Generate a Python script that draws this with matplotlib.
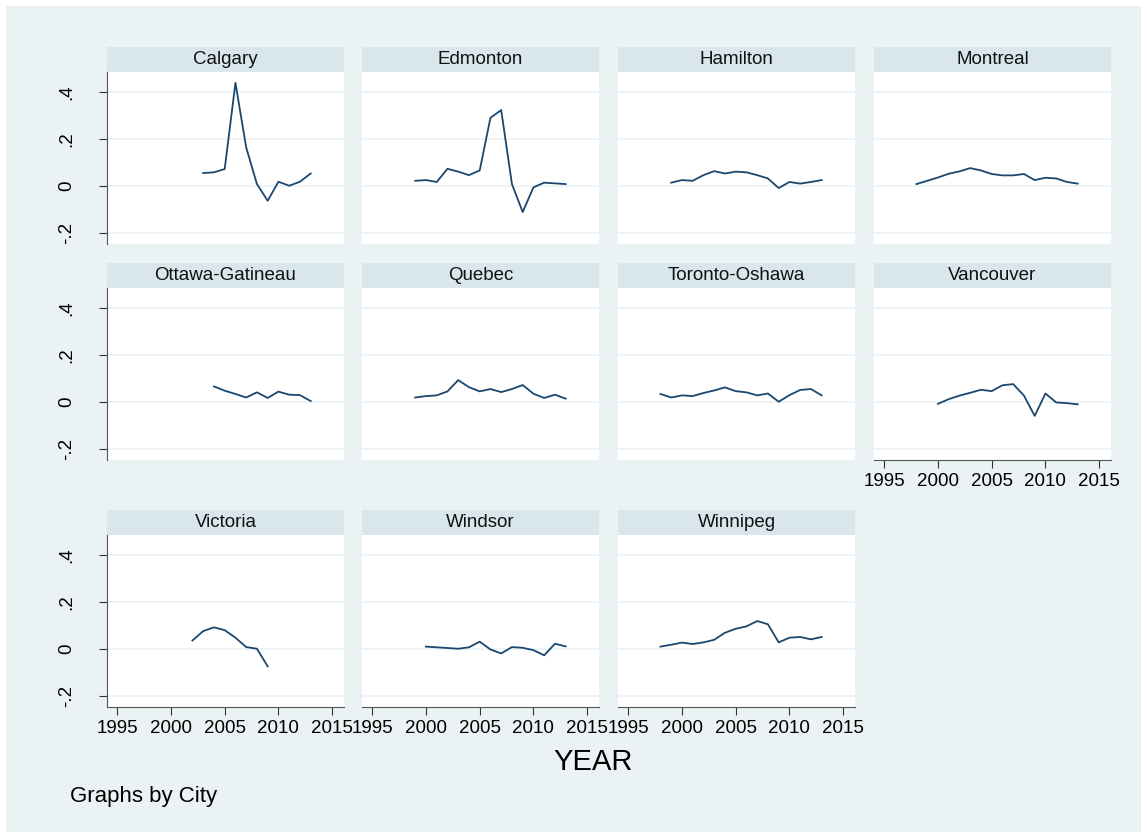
import matplotlib
matplotlib.use("Agg")
import matplotlib.pyplot as plt
from matplotlib.patches import Rectangle

plt.rcParams["font.family"] = ["Liberation Sans", "DejaVu Sans"]

# yearly series per city (first year, values)
calgary_start = 2003
calgary = [0.054, 0.057, 0.071, 0.438, 0.163, 0.007, -0.064, 0.017, 0.0, 0.017, 0.052]
edmonton_start = 1999
edmonton = [0.021, 0.024, 0.016, 0.072, 0.060, 0.045, 0.065, 0.289, 0.322, 0.007,
            -0.112, -0.007, 0.013, 0.010, 0.007]
hamilton_start = 1999
hamilton = [0.013, 0.024, 0.021, 0.045, 0.062, 0.052, 0.060, 0.057, 0.045, 0.031,
            -0.010, 0.016, 0.009, 0.016, 0.024]
montreal_start = 1998
montreal = [0.007, 0.021, 0.035, 0.051, 0.061, 0.075, 0.065, 0.050, 0.044, 0.044,
            0.050, 0.024, 0.034, 0.031, 0.016, 0.009]
ottawa_start = 2004
ottawa = [0.065, 0.047, 0.033, 0.018, 0.040, 0.016, 0.043, 0.030, 0.028, 0.003]
quebec_start = 1999
quebec = [0.018, 0.024, 0.027, 0.044, 0.092, 0.062, 0.044, 0.054, 0.041, 0.054,
          0.071, 0.034, 0.016, 0.030, 0.013]
toronto_start = 1998
toronto = [0.033, 0.018, 0.027, 0.024, 0.037, 0.048, 0.061, 0.045, 0.040, 0.027,
           0.035, 0.0, 0.028, 0.050, 0.054, 0.027]
vancouver_start = 2000
vancouver = [-0.009, 0.011, 0.026, 0.038, 0.051, 0.045, 0.070, 0.075, 0.026, -0.060,
             0.035, -0.003, -0.006, -0.011]
victoria_start = 2002
victoria = [0.035, 0.075, 0.091, 0.079, 0.047, 0.007, 0.0, -0.075]
windsor_start = 2000
windsor = [0.009, 0.006, 0.003, 0.0, 0.006, 0.030, -0.003, -0.020, 0.007, 0.004,
           -0.006, -0.028, 0.021, 0.010]
winnipeg_start = 1998
winnipeg = [0.009, 0.017, 0.026, 0.020, 0.027, 0.038, 0.068, 0.085, 0.095, 0.118,
            0.104, 0.027, 0.047, 0.050, 0.040, 0.050]

cities = ["Calgary", "Edmonton", "Hamilton", "Montreal", "Ottawa-Gatineau", "Quebec",
          "Toronto-Oshawa", "Vancouver", "Victoria", "Windsor", "Winnipeg"]
series = [(calgary_start, calgary), (edmonton_start, edmonton), (hamilton_start, hamilton),
          (montreal_start, montreal), (ottawa_start, ottawa), (quebec_start, quebec),
          (toronto_start, toronto), (vancouver_start, vancouver),
          (victoria_start, victoria), (windsor_start, windsor), (winnipeg_start, winnipeg)]

x_ticks = [1995, 2000, 2005, 2010, 2015]
y_ticks = [-0.2, 0.0, 0.2, 0.4]
y_labels = ["-.2", "0", ".2", ".4"]

BG = "#eaf2f3"
STRIP = "#d9e6eb"
LINE = "#1a476f"
GRID = "#eaf2f3"
FS = 13.5

W, H = 1147, 838
fig = plt.figure(figsize=(W / 100, H / 100), dpi=100)
fig.patch.set_facecolor("white")
fig.add_artist(Rectangle((6 / W, 6 / H), (W - 12) / W, (H - 12) / H,
                         transform=fig.transFigure, facecolor=BG, edgecolor="none", zorder=-10))


def box(x0, y0, w, h):
    # pixel box (top-left origin) -> figure fraction
    return [x0 / W, 1 - (y0 + h) / H, w / W, h / H]


col_x = [107, 362, 618, 874]
row_y = [47, 263, 510]
pw, strip_h, plot_h = 237, 25, 172

for i, (name, (start, vals)) in enumerate(zip(cities, series)):
    r, c = divmod(i, 4)
    x0, y0 = col_x[c], row_y[r]

    sax = fig.add_axes(box(x0, y0, pw, strip_h))
    sax.set_facecolor(STRIP)
    sax.set_xticks([])
    sax.set_yticks([])
    for s in sax.spines.values():
        s.set_visible(False)
    sax.text(0.5, 0.5, name, ha="center", va="center", fontsize=FS, color="#111111")

    ax = fig.add_axes(box(x0, y0 + strip_h, pw, plot_h))
    ax.set_facecolor("white")
    years = list(range(start, start + len(vals)))
    ax.plot(years, vals, color=LINE, lw=1.3)
    ax.set_xlim(1994.05, 2016.1)
    ax.set_ylim(-0.248, 0.484)
    ax.set_yticks(y_ticks)
    ax.grid(axis="y", color=GRID, lw=1.2)
    ax.set_axisbelow(True)
    for s in ax.spines.values():
        s.set_visible(False)

    if c == 0:
        ax.spines["left"].set_visible(True)
        ax.spines["left"].set_color("#555555")
        ax.set_yticklabels(y_labels, rotation=90, va="center", fontsize=FS)
        ax.tick_params(axis="y", length=6, color="#333333", pad=17)
    else:
        ax.tick_params(axis="y", length=0, labelleft=False)

    has_xaxis = r == 2 or (r == 1 and c == 3)
    if has_xaxis:
        ax.spines["bottom"].set_visible(True)
        ax.spines["bottom"].set_color("#555555")
        ax.set_xticks(x_ticks)
        ax.set_xticklabels([str(t) for t in x_ticks], fontsize=FS)
        ax.tick_params(axis="x", length=6, color="#333333", pad=3)
    else:
        ax.set_xticks([])

fig.text(593 / W, 1 - 762 / H, "YEAR", ha="center", va="center", fontsize=21)
fig.text(70 / W, 1 - 796 / H, "Graphs by City", ha="left", va="center", fontsize=16)

fig.savefig("out.png", dpi=100, facecolor=fig.get_facecolor())
